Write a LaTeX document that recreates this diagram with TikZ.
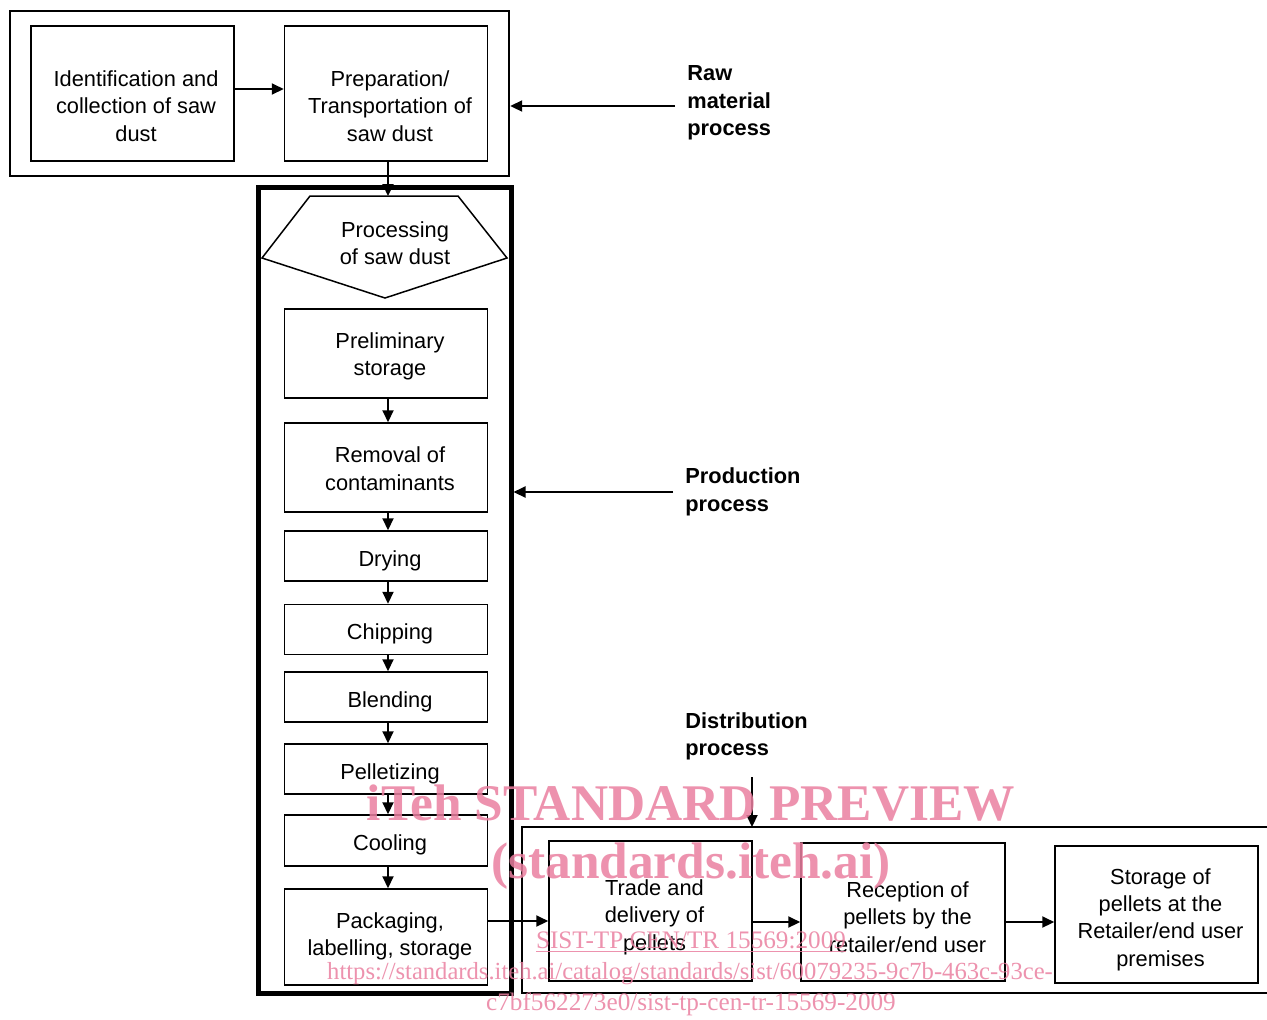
\documentclass[tikz,border=0pt]{standalone}
\usepackage{fontspec}
\setmainfont{Liberation Sans}
\newfontfamily\wmfont{Liberation Serif}
\usetikzlibrary{arrows.meta}
\definecolor{wmpink}{RGB}{234,128,160}
\begin{document}
\begin{tikzpicture}[x=0.5pt,y=-0.5pt,
  txt/.style={inner sep=0pt, align=center, font=\fontsize{10.9}{13.7}\selectfont},
  box/.style={draw, line width=0.75pt, inner sep=0pt, minimum width=101.5pt},
  lbl/.style={inner sep=0pt, align=left, anchor=west, font=\fontsize{10.9}{13.7}\selectfont\bfseries},
  arr/.style={line width=1pt, -{Triangle[length=6pt,width=5.5pt]}},
  wm/.style={inner sep=0pt, text=wmpink, opacity=0.85, font=\wmfont\fontsize{12.6}{15}\selectfont},
  wmbig/.style={inner sep=0pt, text=wmpink, opacity=0.85, font=\wmfont\bfseries\fontsize{25.7}{30}\selectfont}
]
\useasboundingbox (0,0) rectangle (1267,1019);
\fill[white] (0,0) rectangle (1267,1019);

% group boxes
\node[draw, line width=1.2pt, minimum width=249.5pt, minimum height=82.5pt, inner sep=0pt] (raw) at (259.5,93.5) {};
\node[draw, line width=2.5pt, minimum width=126.5pt, minimum height=403pt, inner sep=0pt] (prod) at (384.5,590) {};
\coordinate (dtl) at (522,827);
\coordinate (dbl) at (522,993);
\draw[line width=1.4pt] (1267,827) -- (dtl) -- (dbl) -- (1267,993);

% raw material boxes
\node[box, minimum height=67.5pt] (b1) at (132.5,93.5) {};
\node[txt] (b1t) at (136,106) {Identification and\\collection of saw\\dust};
\node[box, minimum height=67.5pt] (b2) at (386,93.5) {};
\node[txt] (b2t) at (390,106) {Preparation/\\Transportation of\\saw dust};

% processing pentagon
\draw[line width=0.75pt] (310,196) coordinate (ptl) -- (458,196) -- (507,258) -- (385,298) -- (262,258) -- cycle;
\coordinate (ptop) at (388,196);
\node[txt] (proc) at (395,243) {Processing\\of saw dust};

% production boxes
\node[box, minimum height=44.5pt] (s1) at (386,353.5) {};
\node[txt] (s1t) at (390,356.5) {Preliminary\\storage};
\node[box, minimum height=44.5pt] (s2) at (386,467.5) {};
\node[txt] (s2t) at (390,468.5) {Removal of\\contaminants};
\node[box, minimum height=25pt] (s3) at (386,556) {};
\node[txt] (s3t) at (390,561) {Drying};
\node[box, minimum height=25pt] (s4) at (386,629.5) {};
\node[txt] (s4t) at (390,634) {Chipping};
\node[box, minimum height=25pt] (s5) at (386,697) {};
\node[txt] (s5t) at (390,702) {Blending};
\node[box, minimum height=25pt] (s6) at (386,769) {};
\node[txt] (s6t) at (390,774) {Pelletizing};
\node[box, minimum height=25.5pt] (s7) at (386,840.5) {};
\node[txt] (s7t) at (390,845) {Cooling};
\node[box, minimum height=48pt] (s8) at (386,937) {};
\node[txt] (s8t) at (390,936.5) {Packaging,\\labelling, storage};

% distribution boxes
\node[box, minimum height=70pt] (d1) at (650.5,911) {};
\node[txt] (d1t) at (654.5,917) {Trade and\\delivery of\\pellets};
\node[box, minimum width=102pt, minimum height=69pt] (d2) at (903,912) {};
\node[txt] (d2t) at (907.5,917) {Reception of\\pellets by the\\retailer/end user};
\node[box, minimum height=68.5pt] (d3) at (1156.5,914.5) {};
\node[txt] (d3t) at (1160.5,919.5) {Storage of\\pellets at the\\Retailer/end user\\premises};

% labels
\node[lbl] (lraw) at (687,103) {Raw\\material\\process};
\node[lbl] (lprod) at (685,492) {Production\\process};
\node[lbl] (ldist) at (685,736.5) {Distribution\\process};
\coordinate (araw) at (675,106);
\coordinate (aprod) at (673,492);
\coordinate (adist) at (752,777);

% connectors
\draw[arr] (b1.east |- 0,89) -- (b2.west |- 0,89);
\draw[arr] (araw) -- (raw.east |- araw);
\draw[arr] (aprod) -- (prod.east |- aprod);
\draw[arr] (adist) -- (adist |- dtl);
\draw[arr] ([xshift=1pt]b2.south) -- (ptop);
\foreach \a/\b in {s1/s2,s2/s3,s3/s4,s4/s5,s5/s6,s6/s7,s7/s8}
  \draw[arr] ([xshift=1pt]\a.south) -- ([xshift=1pt]\b.north);
\draw[arr] (s8.east |- 0,921) -- (d1.west |- 0,921);
\draw[arr] (d1.east |- 0,922) -- (d2.west |- 0,922);
\draw[arr] (d2.east |- 0,922) -- (d3.west |- 0,922);

% watermark
\node[wmbig] (w1) at (691,803) {iTeh STANDARD PREVIEW};
\node[wmbig] (w2) at (691,866) {(standards.iteh.ai)};
\node[wm] (w3) at (691,942) {\underline{SIST-TP CEN/TR 15569:2009}};
\node[wm, font=\wmfont\fontsize{12.3}{15}\selectfont] (w4) at (690,974) {https://standards.iteh.ai/catalog/standards/sist/60079235-9c7b-463c-93ce-};
\node[wm] (w5) at (691,1004) {c7bf562273e0/sist-tp-cen-tr-15569-2009};
\end{tikzpicture}
\end{document}
